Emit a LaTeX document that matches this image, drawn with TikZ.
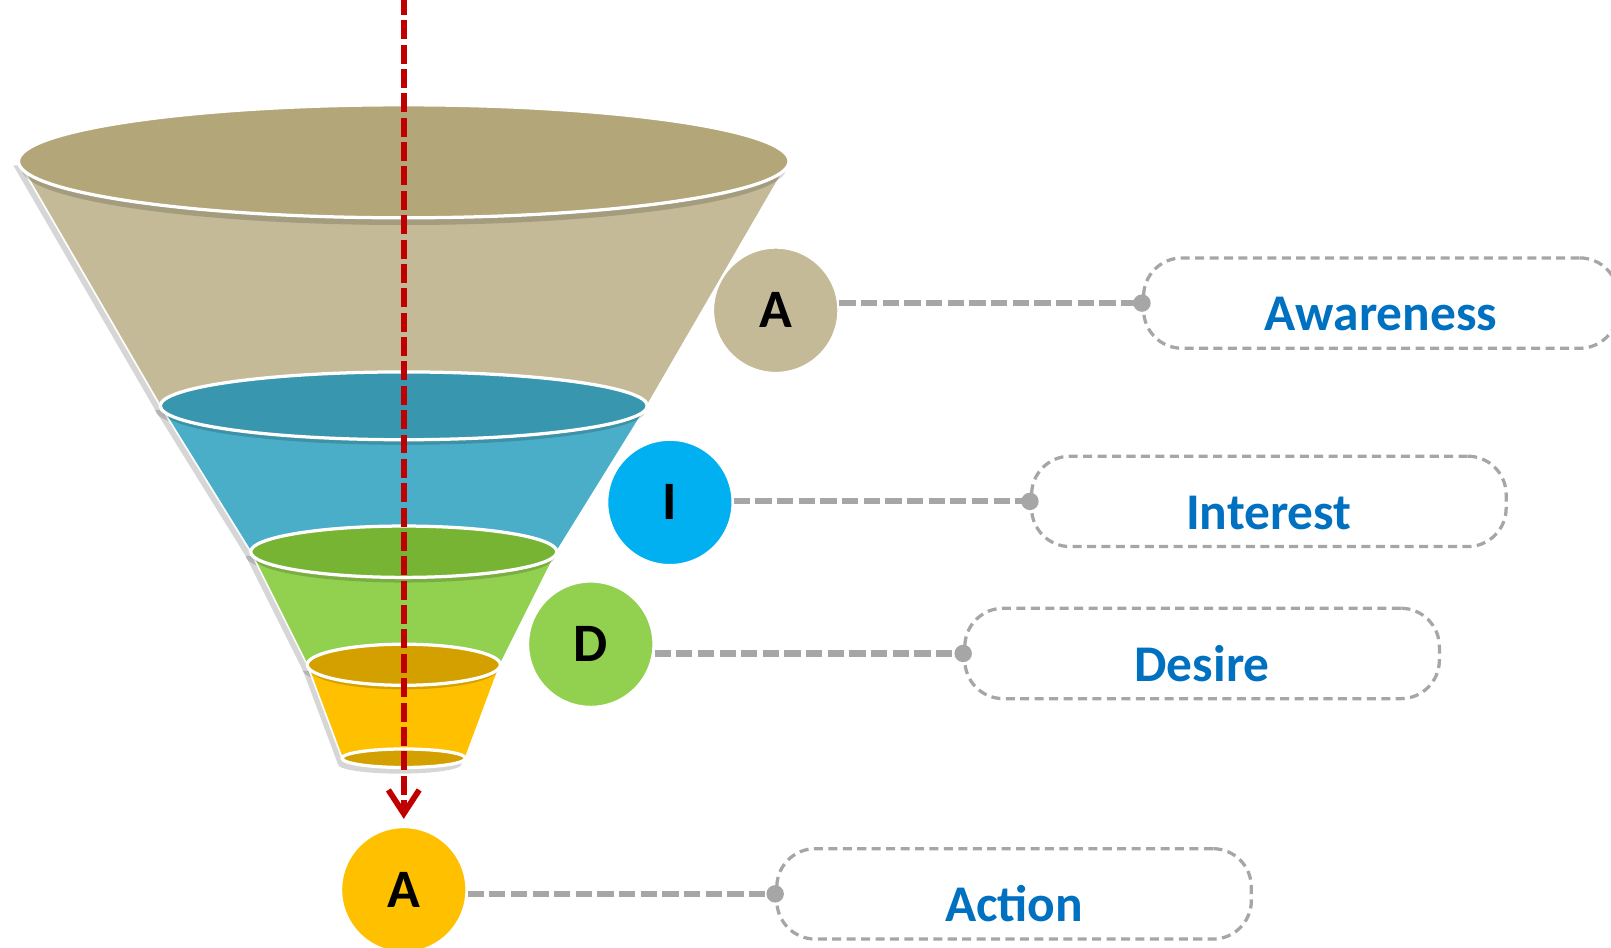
\documentclass[tikz,border=0pt]{standalone}
\usepackage{fontspec}
\setmainfont{Carlito}
\usepackage{xcolor}
\usepackage{tikz}
\usetikzlibrary{positioning}
\usetikzlibrary{arrows.meta}
\definecolor{tanT}{HTML}{B3A679}
\definecolor{tanB}{HTML}{C4BA97}
\definecolor{bluT}{HTML}{3896AF}
\definecolor{bluB}{HTML}{4BAEC8}
\definecolor{bluC}{HTML}{00B0F0}
\definecolor{grnT}{HTML}{77B433}
\definecolor{grnB}{HTML}{92D050}
\definecolor{yelT}{HTML}{D4A000}
\definecolor{yelB}{HTML}{FFC000}
\definecolor{linkgrey}{HTML}{A6A6A6}
\definecolor{textblue}{HTML}{0070C0}
\definecolor{arrowred}{HTML}{C00000}
\tikzset{
    stagenode/.style = {circle, draw=white, line width=1.2pt, inner sep=0pt, minimum size=2.44cm, font=\fontsize{30}{30}\selectfont\bfseries},
    stagebox/.style = {rectangle, rounded corners=0.75cm, draw=linkgrey, line width=1.8pt, dash pattern=on 5pt off 3pt, inner sep=0pt, minimum width=9.24cm, minimum height=1.76cm, text height=1.08cm, text depth=0cm, text=textblue, font=\fontsize{28.5}{28.5}\selectfont\bfseries},
    bodyn/.style = {draw=white, line width=0.9pt},
    rimn/.style = {draw=white, line width=1.8pt},
    shadown/.style = {fill=black, opacity=0.16},
    edgeg/.style = {draw=linkgrey, line width=3.4pt, dash pattern=on 9pt off 3pt},
    edger/.style = {draw=arrowred, line width=3.2pt, dash pattern=on 10.5pt off 3pt, -{Straight Barb[length=4.6mm, width=6mm]}},
}
\begin{document}
\begin{tikzpicture}[x=0.02cm, y=-0.02cm]
\useasboundingbox (0,0) rectangle (1568,922);
\clip (0,0) rectangle (1568,922);
%
% funnel: awareness
\fill[shadown, shift={(-5,4)}] (18,157) -- (156,395) arc[start angle=180, end angle=0, x radius=237, y radius=33] -- (768,157) -- cycle;
\filldraw[bodyn, fill=tanB] (18,157) -- (156,395) arc[start angle=180, end angle=0, x radius=237, y radius=33] -- (768,157) -- cycle;
\fill[shadown] (393,164) ellipse [x radius=372, y radius=55];
\filldraw[rimn, fill=tanT] (393,157) ellipse [x radius=375, y radius=55];
%
% funnel: interest
\fill[shadown, shift={(-5,4)}] (156,395) -- (244,537) arc[start angle=180, end angle=0, x radius=149, y radius=25] -- (630,395) -- cycle;
\filldraw[bodyn, fill=bluB] (156,395) -- (244,537) arc[start angle=180, end angle=0, x radius=149, y radius=25] -- (630,395) -- cycle;
\fill[shadown] (393,400) ellipse [x radius=235, y radius=33];
\filldraw[rimn, fill=bluT] (393,395) ellipse [x radius=237, y radius=33];
%
% funnel: desire
\fill[shadown, shift={(-5,4)}] (244,537) -- (299,647) arc[start angle=180, end angle=0, x radius=94, y radius=20] -- (542,537) -- cycle;
\filldraw[bodyn, fill=grnB] (244,537) -- (299,647) arc[start angle=180, end angle=0, x radius=94, y radius=20] -- (542,537) -- cycle;
\fill[shadown] (393,542) ellipse [x radius=147, y radius=25];
\filldraw[rimn, fill=grnT] (393,537) ellipse [x radius=149, y radius=25];
%
% funnel: action
\fill[shadown, shift={(-4,6)}] (299,647) -- (333,738) arc[start angle=180, end angle=0, x radius=60, y radius=9] -- (487,647) -- cycle;
\filldraw[bodyn, fill=yelB] (299,647) -- (333,738) arc[start angle=180, end angle=0, x radius=60, y radius=9] -- (487,647) -- cycle;
\fill[shadown] (393,651) ellipse [x radius=92, y radius=20];
\filldraw[rimn, fill=yelT] (393,647) ellipse [x radius=94, y radius=20];
\filldraw[rimn, fill=yelT] (393,738) ellipse [x radius=60, y radius=9];
%
% red arrow
\coordinate (top) at (393,-4);
\coordinate (tip) at (393,797);
\draw[edger] (top) -- (tip);
%
% letters
\node[stagenode, fill=tanB] at (755,302) (cAw) {A};
\node[stagenode, fill=bluC] at (652,489) (cIn) {I};
\node[stagenode, fill=grnB] at (575,627) (cDe) {D};
\node[stagenode, fill=yelB] at (393,866) (cAc) {A};
%
% boxes
\node[stagebox] at (1344,295) (bAw) {Awareness};
\node[stagebox] at (1235,488) (bIn) {Interest};
\node[stagebox] at (1170,636) (bDe) {Desire};
\node[stagebox] at (987,870) (bAc) {Action};
%
\draw[edgeg] (cAw.east |- bAw.west) -- (bAw.west);
\draw[edgeg] (cIn.east |- bIn.west) -- (bIn.west);
\draw[edgeg] (cDe.east |- bDe.west) -- (bDe.west);
\draw[edgeg] (cAc.east |- bAc.west) -- (bAc.west);
%
\fill[linkgrey] (bAw.west) circle [radius=8.5];
\fill[linkgrey] (bIn.west) circle [radius=8.5];
\fill[linkgrey] (bDe.west) circle [radius=8.5];
\fill[linkgrey] (bAc.west) circle [radius=8.5];
\end{tikzpicture}
\end{document}
